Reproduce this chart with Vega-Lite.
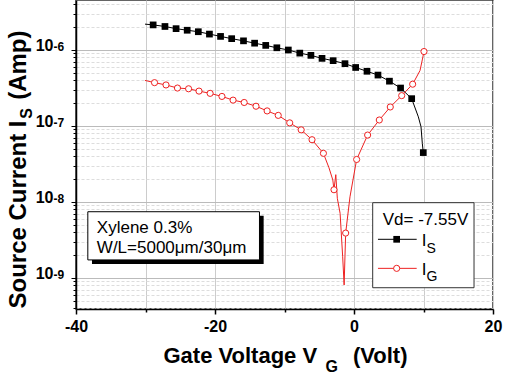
{
  "$schema": "https://vega.github.io/schema/vega-lite/v6.json",
  "width": 417,
  "height": 309,
  "autosize": {"type": "none"},
  "padding": {"left": 76, "top": 0, "right": 14, "bottom": 71},
  "background": "white",
  "config": {
    "font": "Liberation Sans",
    "view": {"stroke": "#333333", "strokeWidth": 1.5},
    "axis": {"labelFont": "Liberation Sans", "titleFont": "Liberation Sans", "labelColor": "black", "titleColor": "black"}
  },
  "datasets": {
    "curves": [
      {"series": "IS", "v": -30.07, "i": 2.19e-6, "m": 0},
      {"series": "IS", "v": -28.9, "i": 2.14e-6, "m": 1},
      {"series": "IS", "v": -27.2, "i": 2.04e-6, "m": 1},
      {"series": "IS", "v": -25.6, "i": 1.91e-6, "m": 1},
      {"series": "IS", "v": -24.0, "i": 1.82e-6, "m": 1},
      {"series": "IS", "v": -22.4, "i": 1.74e-6, "m": 1},
      {"series": "IS", "v": -20.8, "i": 1.62e-6, "m": 1},
      {"series": "IS", "v": -19.2, "i": 1.51e-6, "m": 1},
      {"series": "IS", "v": -17.6, "i": 1.41e-6, "m": 1},
      {"series": "IS", "v": -15.9, "i": 1.32e-6, "m": 1},
      {"series": "IS", "v": -14.3, "i": 1.23e-6, "m": 1},
      {"series": "IS", "v": -12.7, "i": 1.15e-6, "m": 1},
      {"series": "IS", "v": -11.1, "i": 1.07e-6, "m": 1},
      {"series": "IS", "v": -9.45, "i": 1.0e-6, "m": 1},
      {"series": "IS", "v": -7.8, "i": 9.1e-7, "m": 1},
      {"series": "IS", "v": -6.2, "i": 8.5e-7, "m": 1},
      {"series": "IS", "v": -4.6, "i": 7.76e-7, "m": 1},
      {"series": "IS", "v": -3.0, "i": 7.24e-7, "m": 1},
      {"series": "IS", "v": -1.3, "i": 6.61e-7, "m": 1},
      {"series": "IS", "v": 0.24, "i": 5.89e-7, "m": 1},
      {"series": "IS", "v": 1.87, "i": 5.25e-7, "m": 1},
      {"series": "IS", "v": 3.45, "i": 4.68e-7, "m": 1},
      {"series": "IS", "v": 5.1, "i": 3.89e-7, "m": 1},
      {"series": "IS", "v": 6.7, "i": 3.16e-7, "m": 1},
      {"series": "IS", "v": 8.3, "i": 2.29e-7, "m": 1},
      {"series": "IS", "v": 9.26, "i": 1.32e-7, "m": 0},
      {"series": "IS", "v": 9.64, "i": 9.8e-8, "m": 0},
      {"series": "IS", "v": 9.83, "i": 5.9e-8, "m": 0},
      {"series": "IS", "v": 9.97, "i": 4.47e-8, "m": 1},
      {"series": "IG", "v": -30.07, "i": 3.98e-7, "m": 0},
      {"series": "IG", "v": -28.7, "i": 3.72e-7, "m": 1},
      {"series": "IG", "v": -27.05, "i": 3.47e-7, "m": 1},
      {"series": "IG", "v": -25.4, "i": 3.16e-7, "m": 1},
      {"series": "IG", "v": -23.8, "i": 3.09e-7, "m": 1},
      {"series": "IG", "v": -22.3, "i": 2.88e-7, "m": 1},
      {"series": "IG", "v": -20.7, "i": 2.69e-7, "m": 1},
      {"series": "IG", "v": -19.0, "i": 2.45e-7, "m": 1},
      {"series": "IG", "v": -17.4, "i": 2.19e-7, "m": 1},
      {"series": "IG", "v": -15.8, "i": 2.04e-7, "m": 1},
      {"series": "IG", "v": -14.1, "i": 1.82e-7, "m": 1},
      {"series": "IG", "v": -12.5, "i": 1.58e-7, "m": 1},
      {"series": "IG", "v": -10.9, "i": 1.38e-7, "m": 1},
      {"series": "IG", "v": -9.25, "i": 1.10e-7, "m": 1},
      {"series": "IG", "v": -7.6, "i": 8.9e-8, "m": 1},
      {"series": "IG", "v": -6.04, "i": 6.6e-8, "m": 1},
      {"series": "IG", "v": -4.4, "i": 4.37e-8, "m": 1},
      {"series": "IG", "v": -3.6, "i": 2.82e-8, "m": 0},
      {"series": "IG", "v": -3.05, "i": 1.95e-8, "m": 0},
      {"series": "IG", "v": -2.88, "i": 1.45e-8, "m": 1},
      {"series": "IG", "v": -2.62, "i": 2.29e-8, "m": 0},
      {"series": "IG", "v": -2.4, "i": 1.12e-8, "m": 0},
      {"series": "IG", "v": -2.0, "i": 7.1e-9, "m": 0},
      {"series": "IG", "v": -1.63, "i": 1.9e-9, "m": 0},
      {"series": "IG", "v": -1.42, "i": 8.1e-10, "m": 0},
      {"series": "IG", "v": -1.2, "i": 3.9e-9, "m": 1},
      {"series": "IG", "v": -0.58, "i": 1.17e-8, "m": 0},
      {"series": "IG", "v": 0.38, "i": 3.63e-8, "m": 1},
      {"series": "IG", "v": 1.96, "i": 7.6e-8, "m": 1},
      {"series": "IG", "v": 3.64, "i": 1.20e-7, "m": 1},
      {"series": "IG", "v": 5.22, "i": 1.78e-7, "m": 1},
      {"series": "IG", "v": 6.86, "i": 2.51e-7, "m": 1},
      {"series": "IG", "v": 8.44, "i": 3.55e-7, "m": 1},
      {"series": "IG", "v": 9.5, "i": 5.37e-7, "m": 0},
      {"series": "IG", "v": 9.85, "i": 7.6e-7, "m": 0},
      {"series": "IG", "v": 10.07, "i": 9.55e-7, "m": 1}
    ],
    "one": [{}]
  },
  "resolve": {"axis": {"x": "independent", "y": "independent"}},
  "layer": [
    {
      "data": {"name": "curves"},
      "transform": [{"filter": "datum.series === 'IS'"}],
      "mark": {"type": "line", "color": "black", "strokeWidth": 1},
      "encoding": {
        "x": {"field": "v", "type": "quantitative",
          "scale": {"domain": [-40, 20], "nice": false, "zero": false},
          "axis": {
            "orient": "bottom",
            "values": [-40, -30, -20, -10, 0, 10, 20],
            "labelExpr": "datum.value % 20 === 0 ? '' + datum.value : ''",
            "labelFlush": false, "labelOverlap": false,
            "labelFontSize": 16, "labelFontWeight": "bold", "labelPadding": 4,
            "tickSize": {"condition": {"test": "datum.value % 20 === 0", "value": 5}, "value": 3},
            "tickColor": "black", "tickWidth": 1.5,
            "domainColor": "black", "domainWidth": 1.5,
            "grid": true, "gridColor": "#cccccc", "gridWidth": 1,
            "title": "Gate Voltage V", "titleFontSize": 22, "titleFontWeight": "bold",
            "titleAlign": "left", "titleBaseline": "alphabetic", "titleX": 87, "titleY": 53
          }},
        "y": {"field": "i", "type": "quantitative",
          "scale": {"type": "log", "domain": [3.91e-10, 4.55e-6], "nice": false},
          "axis": {
            "orient": "left",
            "values": [4e-10, 5e-10, 6e-10, 7e-10, 8e-10, 9e-10, 1e-9, 2e-9, 3e-9, 4e-9, 5e-9, 6e-9, 7e-9, 8e-9, 9e-9, 1e-8, 2e-8, 3e-8, 4e-8, 5e-8, 6e-8, 7e-8, 8e-8, 9e-8, 1e-7, 2e-7, 3e-7, 4e-7, 5e-7, 6e-7, 7e-7, 8e-7, 9e-7, 1e-6, 2e-6, 3e-6, 4e-6],
            "labelExpr": "abs(log(datum.value)/LN10 - round(log(datum.value)/LN10)) < 0.0001 ? '10' : ''",
            "labelOverlap": false, "labelFlush": false,
            "labelFontSize": 16, "labelFontWeight": "bold", "labelBaseline": "alphabetic", "labelDy": 7, "labelPadding": 18,
            "tickSize": {"condition": {"test": "abs(log(datum.value)/LN10 - round(log(datum.value)/LN10)) < 0.0001", "value": 5}, "value": 3},
            "tickColor": "black", "tickWidth": 1,
            "domainColor": "black", "domainWidth": 1.5,
            "grid": true,
            "gridColor": {"condition": {"test": "abs(log(datum.value)/LN10 - round(log(datum.value)/LN10)) < 0.0001", "value": "#bbbbbb"}, "value": "#dddddd"},
            "gridDash": {"condition": {"test": "abs(log(datum.value)/LN10 - round(log(datum.value)/LN10)) < 0.0001", "value": []}, "value": [3, 2]},
            "title": "Source Current I", "titleFontSize": 24, "titleFontWeight": "bold",
            "titleAngle": 270, "titleAlign": "left", "titleBaseline": "alphabetic", "titleX": -51, "titleY": 308
          }}
      }
    },
    {
      "data": {"name": "curves"},
      "transform": [{"filter": "datum.series === 'IS' && datum.m === 1"}],
      "mark": {"type": "point", "shape": "square", "filled": true, "color": "black", "size": 45, "opacity": 1},
      "encoding": {
        "x": {"field": "v", "type": "quantitative",
          "scale": {"domain": [-40, 20], "nice": false, "zero": false},
          "axis": {"orient": "bottom", "labels": false, "ticks": false, "domain": false, "grid": false,
            "title": "G", "titleFontSize": 16, "titleFontWeight": "bold",
            "titleAlign": "left", "titleBaseline": "alphabetic", "titleX": 249, "titleY": 62}},
        "y": {"field": "i", "type": "quantitative",
          "scale": {"type": "log", "domain": [3.91e-10, 4.55e-6], "nice": false},
          "axis": {"orient": "left", "ticks": false, "domain": false, "grid": false,
            "values": [1e-9, 1e-8, 1e-7, 1e-6],
            "labelExpr": "'' + round(log(datum.value)/LN10)",
            "labelOverlap": false, "labelFlush": false,
            "labelFontSize": 12, "labelFontWeight": "bold", "labelAlign": "left", "labelBaseline": "alphabetic", "labelDy": -3, "labelPadding": 23,
            "title": "S", "titleFontSize": 16, "titleFontWeight": "bold",
            "titleAngle": 270, "titleAlign": "center", "titleBaseline": "alphabetic", "titleX": -45, "titleY": 113}}
      }
    },
    {
      "data": {"name": "curves"},
      "transform": [{"filter": "datum.series === 'IG'"}],
      "mark": {"type": "line", "color": "#ee2222", "strokeWidth": 1},
      "encoding": {
        "x": {"field": "v", "type": "quantitative",
          "scale": {"domain": [-40, 20], "nice": false, "zero": false},
          "axis": {"orient": "bottom", "labels": false, "ticks": false, "domain": false, "grid": false,
            "title": "(Volt)", "titleFontSize": 22, "titleFontWeight": "bold",
            "titleAlign": "right", "titleBaseline": "alphabetic", "titleX": 331, "titleY": 53}},
        "y": {"field": "i", "type": "quantitative",
          "scale": {"type": "log", "domain": [3.91e-10, 4.55e-6], "nice": false},
          "axis": {"orient": "left", "labels": false, "ticks": false, "domain": false, "grid": false,
            "title": "(Amp)", "titleFontSize": 24, "titleFontWeight": "bold",
            "titleAngle": 270, "titleAlign": "right", "titleBaseline": "alphabetic", "titleX": -51, "titleY": 30}}
      }
    },
    {
      "data": {"name": "curves"},
      "transform": [{"filter": "datum.series === 'IG' && datum.m === 1"}],
      "mark": {"type": "point", "shape": "circle", "filled": false, "fill": "white", "stroke": "#ee2222", "strokeWidth": 1, "size": 38, "opacity": 1},
      "encoding": {
        "x": {"field": "v", "type": "quantitative", "scale": {"domain": [-40, 20], "nice": false, "zero": false}, "axis": null},
        "y": {"field": "i", "type": "quantitative", "scale": {"type": "log", "domain": [3.91e-10, 4.55e-6], "nice": false}, "axis": null}
      }
    },
    {
      "data": {"name": "one"},
      "mark": {"type": "rect", "fill": "black"},
      "encoding": {
        "x": {"datum": -37.7, "type": "quantitative", "axis": null}, "x2": {"datum": -13.0},
        "y": {"datum": 6.6e-9, "type": "quantitative", "scale": {"type": "log"}, "axis": null}, "y2": {"datum": 1.53e-9}
      }
    },
    {
      "data": {"name": "one"},
      "mark": {"type": "rect", "fill": "white", "stroke": "black", "strokeWidth": 1},
      "encoding": {
        "x": {"datum": -38.3, "type": "quantitative", "axis": null}, "x2": {"datum": -13.6},
        "y": {"datum": 7.45e-9, "type": "quantitative", "scale": {"type": "log"}, "axis": null}, "y2": {"datum": 1.73e-9}
      }
    },
    {
      "data": {"name": "one"},
      "mark": {"type": "text", "align": "left", "baseline": "alphabetic", "fontSize": 17, "font": "Liberation Sans", "color": "black", "lineHeight": 19.7,
        "text": ["Xylene 0.3%", "W/L=5000μm/30μm"]},
      "encoding": {
        "x": {"datum": -37.0, "type": "quantitative", "axis": null},
        "y": {"datum": 3.91e-9, "type": "quantitative", "scale": {"type": "log"}, "axis": null}
      }
    },
    {
      "data": {"name": "one"},
      "mark": {"type": "rect", "fill": "white", "stroke": "#333333", "strokeWidth": 1},
      "encoding": {
        "x": {"datum": 2.69, "type": "quantitative", "axis": null}, "x2": {"datum": 17.27},
        "y": {"datum": 9.8e-9, "type": "quantitative", "scale": {"type": "log"}, "axis": null}, "y2": {"datum": 7.45e-10}
      }
    },
    {
      "data": {"name": "one"},
      "mark": {"type": "text", "align": "left", "baseline": "alphabetic", "fontSize": 17, "font": "Liberation Sans", "color": "black", "text": "Vd= -7.55V"},
      "encoding": {
        "x": {"datum": 4.13, "type": "quantitative", "axis": null},
        "y": {"datum": 4.98e-9, "type": "quantitative", "scale": {"type": "log"}, "axis": null}
      }
    },
    {
      "data": {"name": "one"},
      "mark": {"type": "rule", "color": "black", "strokeWidth": 1},
      "encoding": {
        "x": {"datum": 3.45, "type": "quantitative", "axis": null}, "x2": {"datum": 9.02},
        "y": {"datum": 3.23e-9, "type": "quantitative", "scale": {"type": "log"}, "axis": null}
      }
    },
    {
      "data": {"name": "one"},
      "mark": {"type": "point", "shape": "square", "filled": true, "color": "black", "size": 45, "opacity": 1},
      "encoding": {
        "x": {"datum": 6.14, "type": "quantitative", "axis": null},
        "y": {"datum": 3.23e-9, "type": "quantitative", "scale": {"type": "log"}, "axis": null}
      }
    },
    {
      "data": {"name": "one"},
      "mark": {"type": "rule", "color": "#ee2222", "strokeWidth": 1},
      "encoding": {
        "x": {"datum": 3.45, "type": "quantitative", "axis": null}, "x2": {"datum": 9.02},
        "y": {"datum": 1.34e-9, "type": "quantitative", "scale": {"type": "log"}, "axis": null}
      }
    },
    {
      "data": {"name": "one"},
      "mark": {"type": "point", "shape": "circle", "filled": false, "fill": "white", "stroke": "#ee2222", "strokeWidth": 1, "size": 38, "opacity": 1},
      "encoding": {
        "x": {"datum": 6.14, "type": "quantitative", "axis": null},
        "y": {"datum": 1.34e-9, "type": "quantitative", "scale": {"type": "log"}, "axis": null}
      }
    },
    {
      "data": {"name": "one"},
      "mark": {"type": "text", "align": "left", "baseline": "alphabetic", "fontSize": 17, "font": "Liberation Sans", "color": "black", "text": "I"},
      "encoding": {
        "x": {"datum": 9.74, "type": "quantitative", "axis": null},
        "y": {"datum": 2.64e-9, "type": "quantitative", "scale": {"type": "log"}, "axis": null}
      }
    },
    {
      "data": {"name": "one"},
      "mark": {"type": "text", "align": "left", "baseline": "alphabetic", "fontSize": 14, "font": "Liberation Sans", "color": "black", "text": "S"},
      "encoding": {
        "x": {"datum": 10.42, "type": "quantitative", "axis": null},
        "y": {"datum": 2.15e-9, "type": "quantitative", "scale": {"type": "log"}, "axis": null}
      }
    },
    {
      "data": {"name": "one"},
      "mark": {"type": "text", "align": "left", "baseline": "alphabetic", "fontSize": 17, "font": "Liberation Sans", "color": "black", "text": "I"},
      "encoding": {
        "x": {"datum": 9.74, "type": "quantitative", "axis": null},
        "y": {"datum": 1.094e-9, "type": "quantitative", "scale": {"type": "log"}, "axis": null}
      }
    },
    {
      "data": {"name": "one"},
      "mark": {"type": "text", "align": "left", "baseline": "alphabetic", "fontSize": 14, "font": "Liberation Sans", "color": "black", "text": "G"},
      "encoding": {
        "x": {"datum": 10.42, "type": "quantitative", "axis": null},
        "y": {"datum": 9.2e-10, "type": "quantitative", "scale": {"type": "log"}, "axis": null}
      }
    }
  ]
}
